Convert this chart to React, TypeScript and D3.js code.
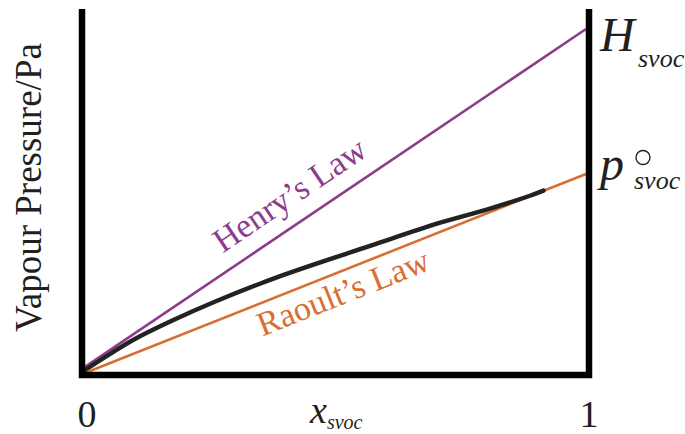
import React from "react";
import * as d3 from "d3";

// Mole fraction of the semi-volatile organic compound (x) vs vapour pressure (relative to H = 1)
const henryLine: [number, number][] = [
  [0, 0.009],
  [1, 1],
];
const raoultLine: [number, number][] = [
  [0, -0.009],
  [1, 0.575],
];
const measuredCurve: [number, number][] = [
  [0, 0],
  [0.04, 0.038],
  [0.096, 0.088],
  [0.17, 0.142],
  [0.259, 0.2],
  [0.391, 0.276],
  [0.569, 0.364],
  [0.709, 0.432],
  [0.81, 0.474],
  [0.888, 0.511],
  [0.915, 0.526],
];
const xTickLabels = ["0", "1"];
const xTickValues = [0, 1];

const W = 685;
const H = 434;
const SERIF =
  '"Liberation Serif", "Times New Roman", Times, Tinos, "Nimbus Roman", "Nimbus Roman No9 L", "DejaVu Serif", FreeSerif, "Noto Serif", Georgia, serif';
const TEXT = "#231f20";
const PURPLE = "#8c3c8c";
const ORANGE = "#d86e32";

export default function App() {
  const x = d3.scaleLinear().domain([0, 1]).range([85, 586]);
  const y = d3.scaleLinear().domain([0, 1]).range([370, 29]);

  const line = d3
    .line<[number, number]>()
    .x((d) => x(d[0]))
    .y((d) => y(d[1]));
  const smooth = d3
    .line<[number, number]>()
    .x((d) => x(d[0]))
    .y((d) => y(d[1]))
    .curve(d3.curveCatmullRom.alpha(0.5));

  const slopeAngle = (pts: [number, number][]) => {
    const [a, b] = pts;
    return (Math.atan2(y(b[1]) - y(a[1]), x(b[0]) - x(a[0])) * 180) / Math.PI;
  };
  const along = (pts: [number, number][], t: number): [number, number] => {
    const [a, b] = pts;
    return [x(t), y(a[1] + (b[1] - a[1]) * ((t - a[0]) / (b[0] - a[0])))];
  };

  const henryPos = along(henryLine, 0.44);
  const raoultPos = along(raoultLine, 0.5);
  const hEnd = y(henryLine[1][1]);
  const pEnd = y(raoultLine[1][1]);

  const frameLeft = 82;
  const frameRight = 589;
  const frameBottom = 375;
  const frameTop = 9;

  const font = { fontFamily: SERIF };

  return (
    <svg
      width={W}
      height={H}
      style={{ position: "absolute", left: 0, top: 0, background: "#fff", fontFamily: SERIF }}
    >
      <rect width={W} height={H} fill="#fff" />

      {/* curves */}
      <path d={line(henryLine) ?? ""} stroke={PURPLE} strokeWidth={2.6} fill="none" />
      <path d={line(raoultLine) ?? ""} stroke={ORANGE} strokeWidth={2.6} fill="none" />
      <path
        d={smooth(measuredCurve) ?? ""}
        stroke="#222"
        strokeWidth={4.4}
        fill="none"
        strokeLinecap="round"
      />

      {/* frame: left, right and bottom bars */}
      <path
        d={`M${frameLeft},${frameTop} V${frameBottom} H${frameRight} V${frameTop}`}
        stroke="#000"
        strokeWidth={6.5}
        fill="none"
        strokeLinejoin="miter"
      />

      {/* line labels */}
      <text
        transform={`translate(${henryPos[0]},${henryPos[1]}) rotate(${slopeAngle(henryLine)})`}
        y={-17}
        textAnchor="middle"
        fontSize={34}
        fill={PURPLE}
        style={font}
      >
        Henry’s Law
      </text>
      <text
        transform={`translate(${raoultPos[0]},${raoultPos[1]}) rotate(${slopeAngle(raoultLine)})`}
        y={31.5}
        textAnchor="middle"
        fontSize={34}
        fill={ORANGE}
        style={font}
      >
        Raoult’s Law
      </text>

      {/* y axis title */}
      <text
        transform={`translate(41,${(42 + 333) / 2}) rotate(-90)`}
        textAnchor="middle"
        fontSize={37}
        fill={TEXT}
        style={font}
      >
        Vapour Pressure/Pa
      </text>

      {/* x tick labels */}
      {xTickValues.map((v, i) => (
        <text
          key={i}
          x={x(v) + (i === 0 ? 2 : 3)}
          y={427}
          textAnchor="middle"
          fontSize={38}
          fill={TEXT}
          style={font}
        >
          {xTickLabels[i]}
        </text>
      ))}

      {/* x axis title */}
      <text x={310} y={423} fontSize={38} fill={TEXT} fontStyle="italic" style={font}>
        x
        <tspan fontSize={20} dy={6}>
          svoc
        </tspan>
      </text>

      {/* right-hand value labels */}
      <text x={600} y={hEnd + 22} fontSize={48} fill={TEXT} fontStyle="italic" style={font}>
        H
        <tspan x={638} y={hEnd + 38} fontSize={26}>
          svoc
        </tspan>
      </text>
      <text x={600} y={pEnd + 6} fontSize={48} fill={TEXT} fontStyle="italic" style={font}>
        p
        <tspan x={634} y={pEnd + 15} fontSize={26}>
          svoc
        </tspan>
      </text>
      <circle cx={643} cy={157.5} r={7} fill="none" stroke={TEXT} strokeWidth={1.4} />
    </svg>
  );
}
